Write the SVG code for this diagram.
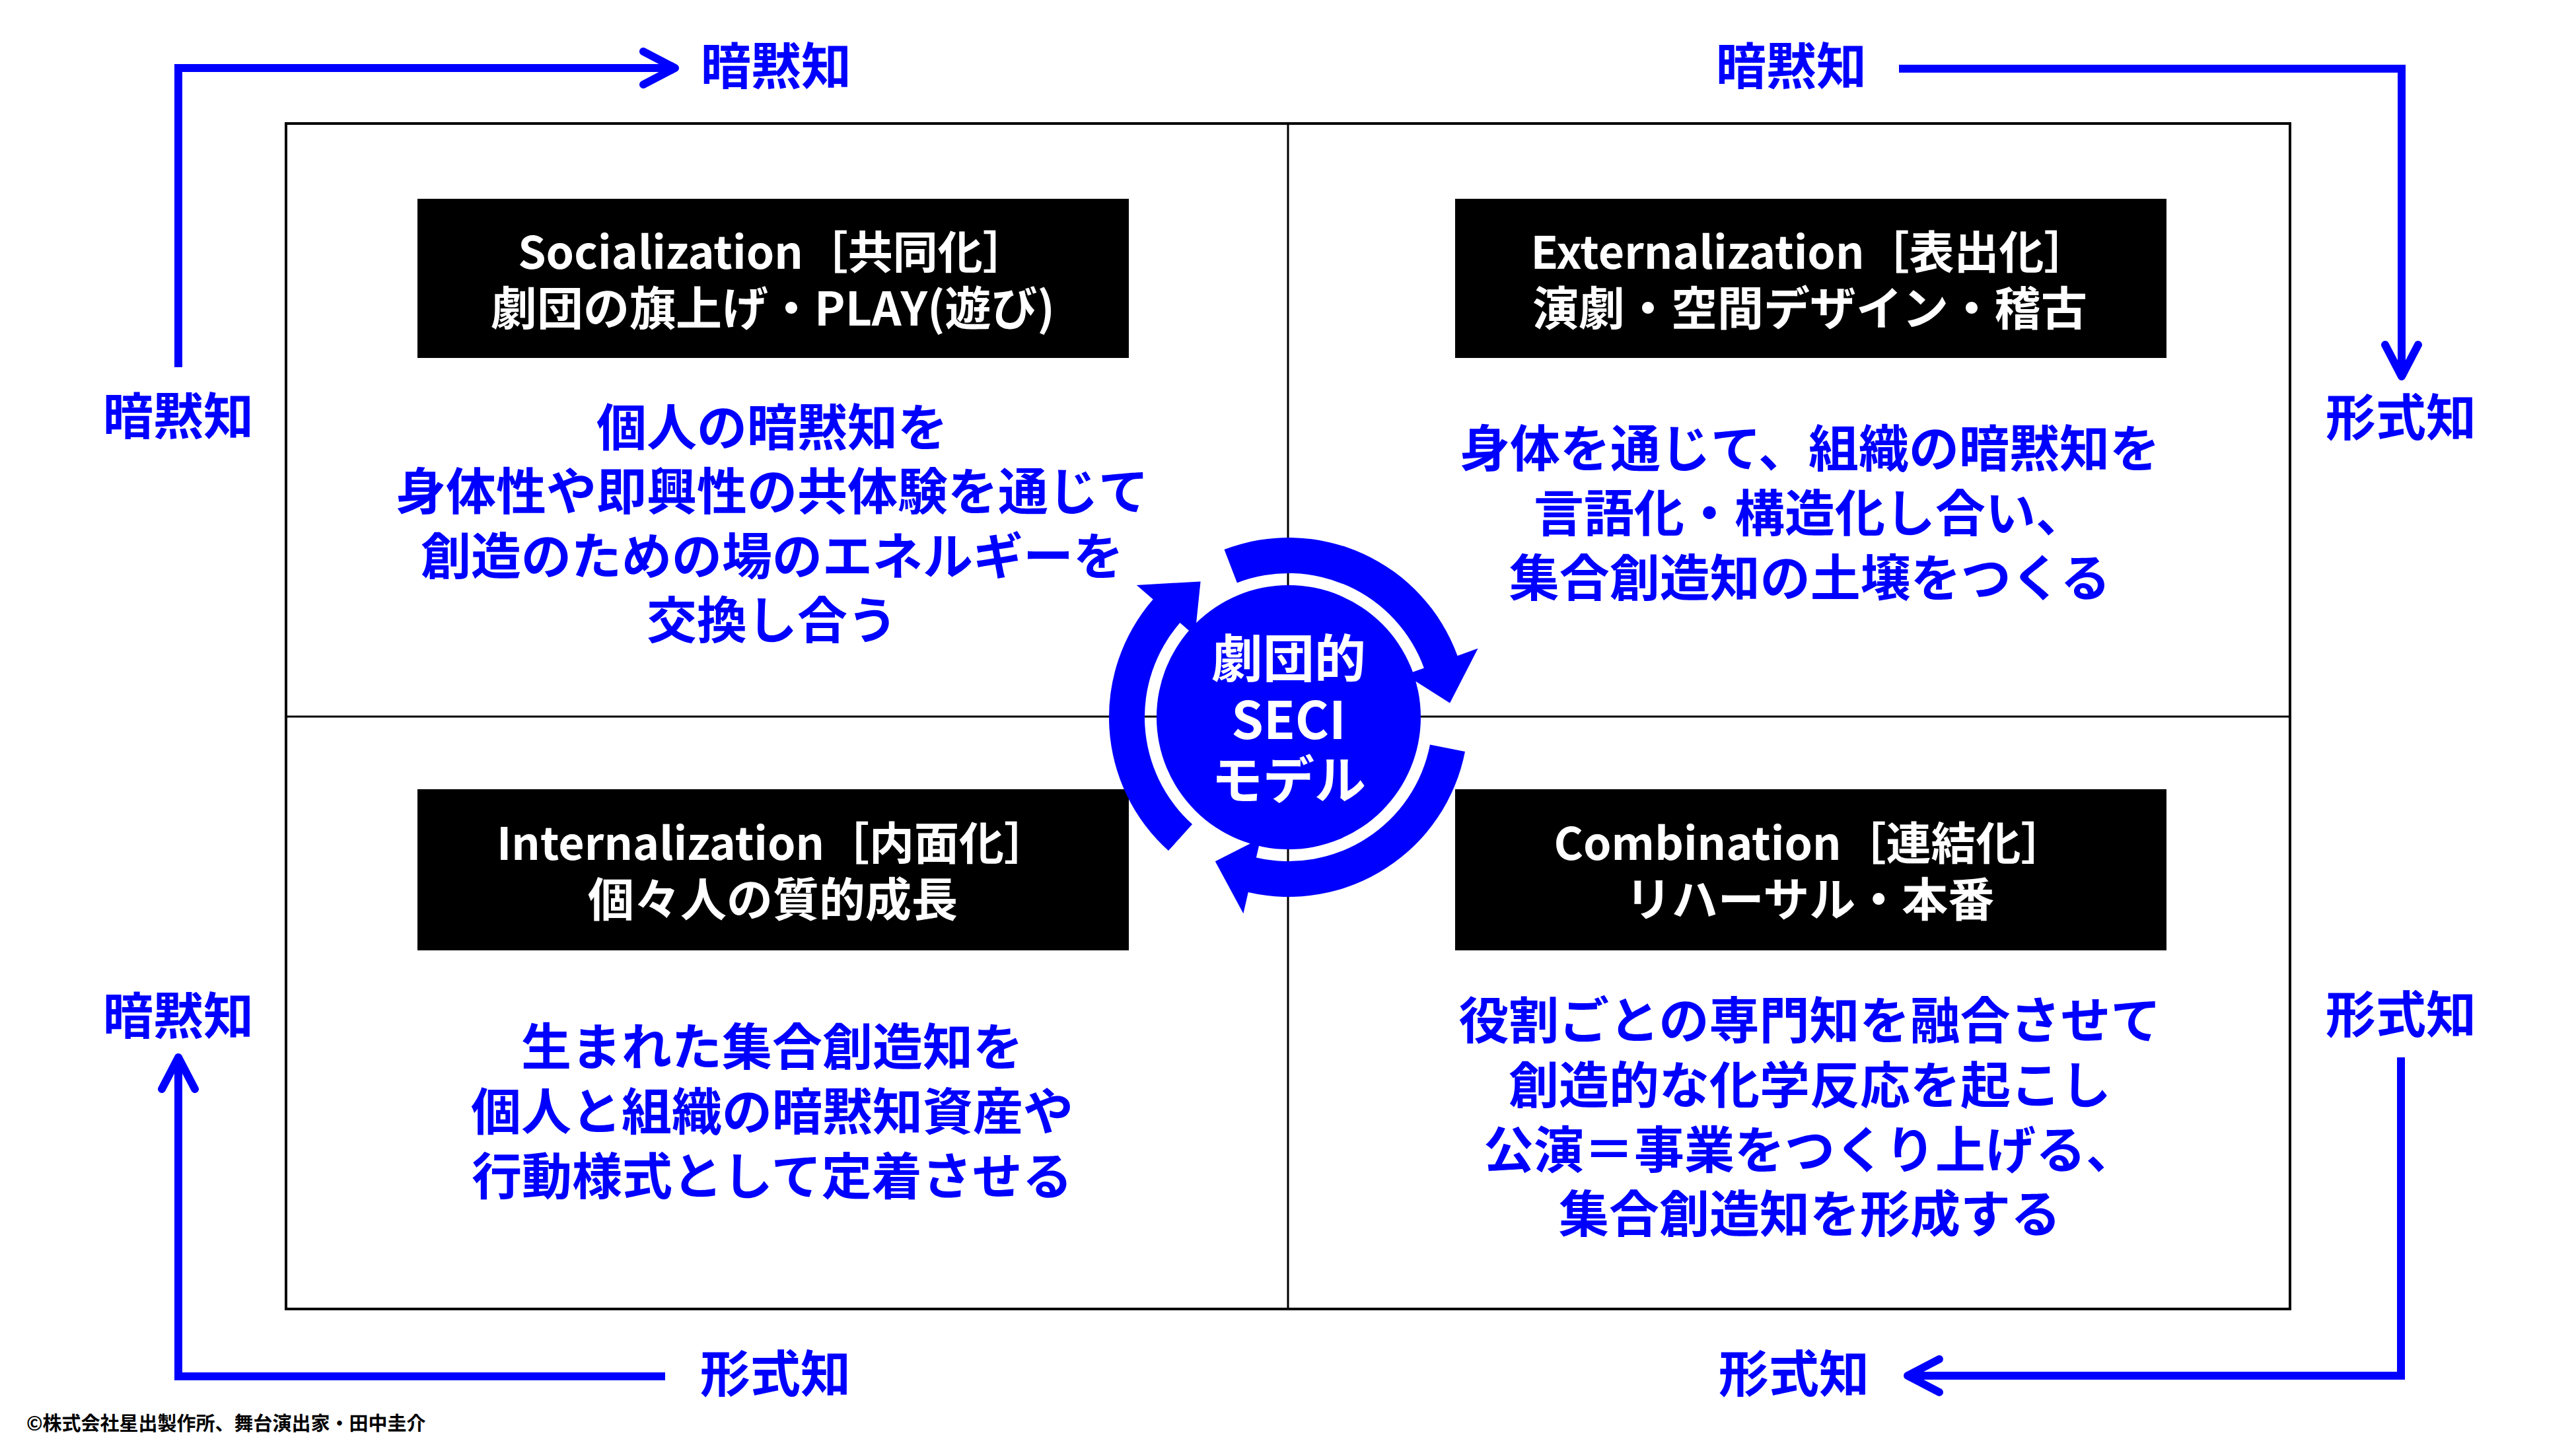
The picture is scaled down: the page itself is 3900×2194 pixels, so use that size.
<svg xmlns="http://www.w3.org/2000/svg" width="3900" height="2194" viewBox="0 0 3900 2194">
<style>
.t{font-family:"Noto Sans CJK JP","Noto Sans",sans-serif;font-weight:700}
.lbl{font-size:76px;fill:#0000FF;text-anchor:middle}
.body{font-size:76px;fill:#0000FF;text-anchor:middle}
.hd{font-size:68px;fill:#FFFFFF;text-anchor:middle}
.hd2{font-size:70px;fill:#FFFFFF;text-anchor:middle}
.box{fill:#000000}
.conn{fill:none;stroke:#0000FF;stroke-width:12;stroke-linejoin:miter;marker-end:url(#ah)}
.grid{fill:none;stroke:#000000;stroke-width:3}
.ring{fill:#0000FF}
.ctr{font-size:78px;fill:#FFFFFF;text-anchor:middle}
</style>
<defs>
<marker id="ah" markerUnits="userSpaceOnUse" markerWidth="90" markerHeight="90" viewBox="-60 -45 90 90" refX="0" refY="0" orient="auto" overflow="visible">
<path d="M-48,-25 L0,0 L-48,25" fill="none" stroke="#0000FF" stroke-width="12" stroke-linecap="round" stroke-linejoin="round"/>
</marker>
</defs>
<rect width="3900" height="2194" fill="#FFFFFF"/>

<g id="frame">
<rect x="433" y="187" width="3034" height="1795" fill="none" stroke="#000" stroke-width="4"/>
<line class="grid" x1="1950" y1="187" x2="1950" y2="1982"/>
<line class="grid" x1="433" y1="1085" x2="3467" y2="1085"/>
</g>

<g id="connectors">
<path class="conn" d="M270,556 V103 H1022"/>
<path class="conn" d="M2875,104 H3636 V570"/>
<path class="conn" d="M3635,1601 V2083 H2888"/>
<path class="conn" d="M1007,2084 H270 V1601"/>
</g>

<g id="labels" class="t">
<text class="lbl" x="1175" y="128">暗黙知</text>
<text class="lbl" x="2712" y="128">暗黙知</text>
<text class="lbl" x="270" y="658">暗黙知</text>
<text class="lbl" x="270" y="1566">暗黙知</text>
<text class="lbl" x="3635" y="660">形式知</text>
<text class="lbl" x="3635" y="1564">形式知</text>
<text class="lbl" x="1174" y="2108">形式知</text>
<text class="lbl" x="2716" y="2108">形式知</text>
</g>

<g id="socialization" class="t">
<rect class="box" x="632" y="301" width="1077" height="241"/>
<text class="hd" x="1170" y="407">Socialization［共同化］</text>
<text class="hd2" x="1170" y="493">劇団の旗上げ・PLAY(遊び)</text>
<text class="body" x="1169" y="675">個人の暗黙知を</text>
<text class="body" x="1169" y="772">身体性や即興性の共体験を通じて</text>
<text class="body" x="1169" y="870">創造のための場のエネルギーを</text>
<text class="body" x="1169" y="967">交換し合う</text>
</g>

<g id="externalization" class="t">
<rect class="box" x="2203" y="301" width="1077" height="241"/>
<text class="hd" x="2740" y="407">Externalization［表出化］</text>
<text class="hd2" x="2740" y="493">演劇・空間デザイン・稽古</text>
<text class="body" x="2740" y="707">身体を通じて、組織の暗黙知を</text>
<text class="body" x="2740" y="805">言語化・構造化し合い、</text>
<text class="body" x="2740" y="903">集合創造知の土壌をつくる</text>
</g>

<g id="internalization" class="t">
<rect class="box" x="632" y="1195" width="1077" height="244"/>
<text class="hd" x="1170" y="1302">Internalization［内面化］</text>
<text class="hd2" x="1170" y="1388">個々人の質的成長</text>
<text class="body" x="1169" y="1613">生まれた集合創造知を</text>
<text class="body" x="1169" y="1711">個人と組織の暗黙知資産や</text>
<text class="body" x="1169" y="1809">行動様式として定着させる</text>
</g>

<g id="combination" class="t">
<rect class="box" x="2203" y="1195" width="1077" height="244"/>
<text class="hd" x="2740" y="1302">Combination［連結化］</text>
<text class="hd2" x="2740" y="1388">リハーサル・本番</text>
<text class="body" x="2740" y="1573">役割ごとの専門知を融合させて</text>
<text class="body" x="2740" y="1671">創造的な化学反応を起こし</text>
<text class="body" x="2740" y="1769">公演＝事業をつくり上げる、</text>
<text class="body" x="2740" y="1866">集合創造知を形成する</text>
</g>

<g id="seci-cycle">
<circle cx="1951" cy="1086" r="200" fill="#0000FF"/>
<path class="ring" d="M1769.0,1288.1 A272,272 0 0 1 1745.7,907.5 L1720.8,885.9 L1817.6,880.5 L1809.1,962.7 L1786.5,943.0 A218,218 0 0 0 1805.1,1248.0 Z"/>
<path class="ring" d="M1853.5,832.1 A272,272 0 0 1 2206.6,993.0 L2237.6,981.7 L2195.1,1064.6 L2127.7,1021.7 L2155.9,1011.4 A218,218 0 0 0 1872.9,882.5 Z"/>
<path class="ring" d="M2218.0,1137.9 A272,272 0 0 1 1889.8,1351.0 L1882.4,1383.2 L1839.8,1304.3 L1908.7,1269.2 L1901.9,1298.4 A218,218 0 0 0 2165.0,1127.6 Z"/>
<text class="t ctr" x="1951" y="1026">劇団的</text>
<text class="t ctr" x="1951" y="1119">SECI</text>
<text class="t ctr" x="1951" y="1210">モデル</text>
</g>

<g id="credit">
<text class="t" x="40" y="2166" font-size="29" font-weight="400" fill="#000">©株式会社星出製作所、舞台演出家・田中圭介</text>
</g>
</svg>
